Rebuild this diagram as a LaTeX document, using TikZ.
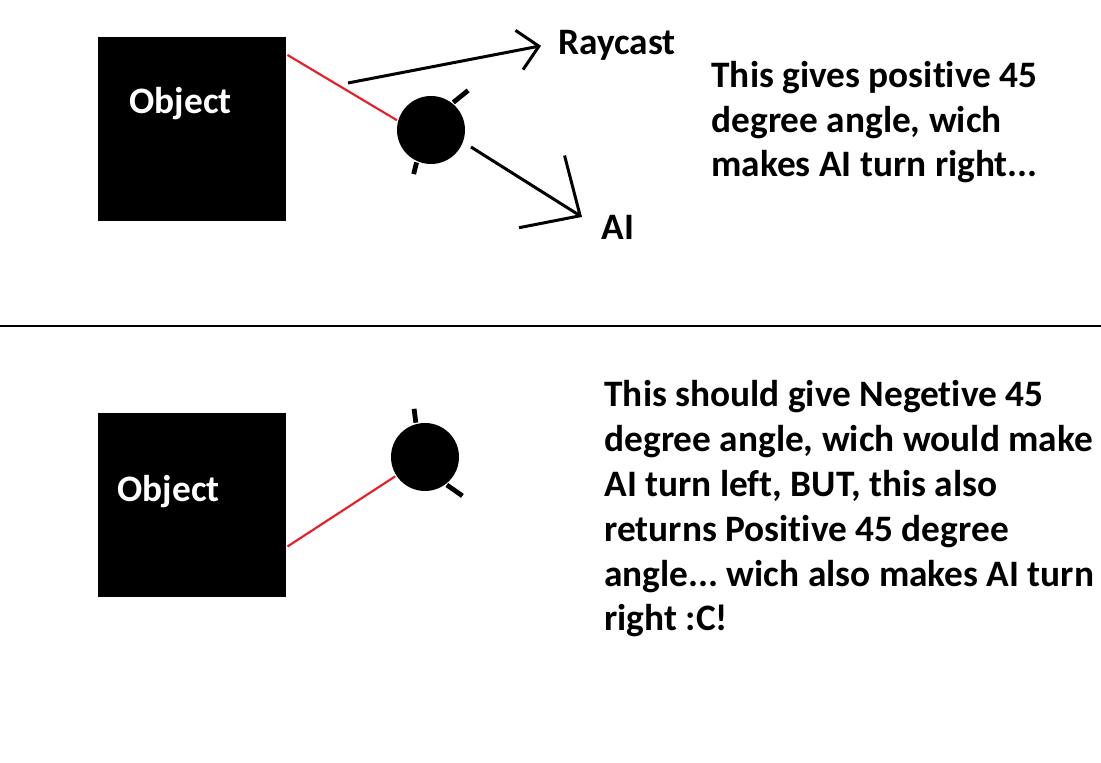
\documentclass[tikz,border=0pt]{standalone}
\usepackage{fontspec}
\setmainfont{Carlito}[Ligatures=CommonOff]
\usetikzlibrary{arrows.meta}
\definecolor{paintred}{RGB}{230,30,40}
\frenchspacing

\begin{document}
\begin{tikzpicture}[x=0.75pt,y=0.75pt,line width=2.25pt,
  objbox/.style={fill=black,minimum width=141pt,minimum height=138pt,inner sep=0pt},
  ball/.style={circle,fill=black,minimum size=51pt,inner sep=0pt},
  lbl/.style={font=\fontsize{28}{33.6}\selectfont\bfseries,inner sep=0pt,anchor=base west},
  ray/.style={paintred,line width=1.6pt},
  tick/.style={line width=3.6pt},
  rayarrow/.style={-{Straight Barb[length=15pt,width=30pt]}},
  aiarrow/.style={-{Straight Barb[length=34pt,width=64pt]}}]
  \useasboundingbox (0,0) rectangle (1101,763);
  \node[objbox] (obj1) at (192,633.5) {};
  \node[lbl,white] (objtxt1) at (128,649) {Object};
  \node[ball] (ball1) at (431,633) {};
  \draw[ray] ([yshift=-14.25pt]obj1.north east) -- (ball1.164);
  \draw[tick] (ball1.51) -- ++(39:19);
  \draw[tick] (ball1.246) -- ++(256:12);
  \node[lbl] (raytxt) at (557,708) {Raycast};
  \node[lbl] (aitxt) at (600,523) {AI};
  \coordinate (rayS) at (348,680);
  \coordinate (aiS) at (471,616);
  \draw[rayarrow] (rayS) -- ([xshift=-12pt]raytxt.west);
  \draw[aiarrow] (aiS) -- ([xshift=-13.5pt,yshift=-2pt]aitxt.north west);
  % multi-line notes: base is the last line
  \node[lbl,align=left] (note1) at (710,586) {This gives positive 45\\degree angle, wich\\makes AI turn right...};
  \draw[line width=1.9pt] (0,437) -- (1101,437);
  \node[objbox] (obj2) at (192,258) {};
  \node[lbl,white] (objtxt2) at (116,261) {Object};
  \node[ball] (ball2) at (425,306) {};
  \draw[ray] ([yshift=39pt]obj2.south east) -- (ball2.213);
  \draw[tick] (ball2.105) -- ++(97:14);
  \draw[tick] (ball2.-52) -- ++(-35:19);
  \node[lbl,align=left] (note2) at (603,132) {This should give Negetive 45\\degree angle, wich would make\\AI turn left, BUT, this also\\returns Positive 45 degree\\angle... wich also makes AI turn\\right :C!};
\end{tikzpicture}
\end{document}
